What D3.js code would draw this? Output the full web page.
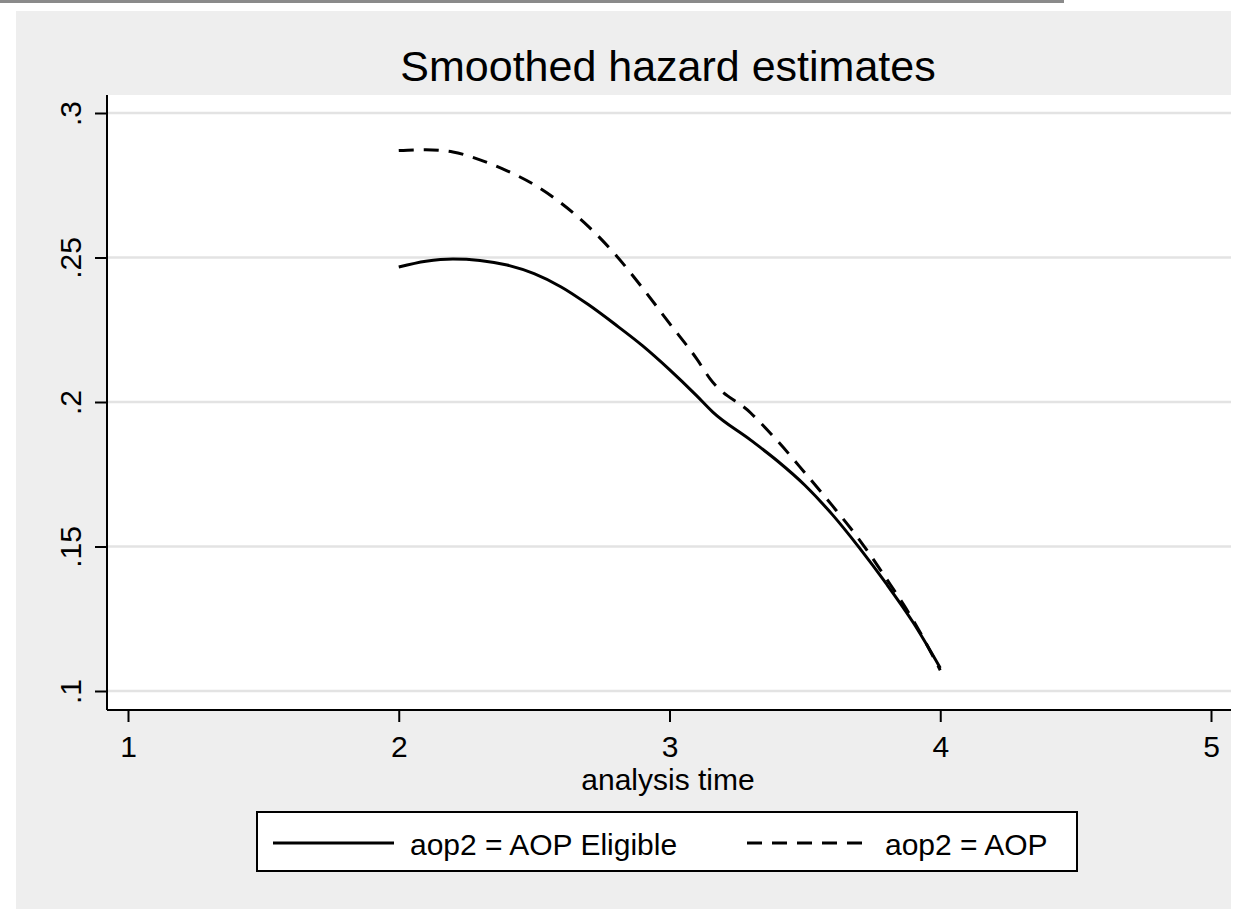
<!DOCTYPE html>
<html>
<head>
<meta charset="utf-8">
<script src="https://cdn.jsdelivr.net/npm/d3@7"></script>
<style>
  body { margin: 0; background: #fff; }
  svg { display: block; font-family: "Liberation Sans", Arial, sans-serif; }
</style>
</head>
<body>
<div id="chart"></div>
<script>
// values
const time = [2.0, 2.1, 2.2, 2.3, 2.4, 2.5, 2.6, 2.7, 2.8, 2.9, 3.0, 3.1, 3.16, 3.3, 3.4, 3.5, 3.6, 3.7, 3.8, 3.9, 4.0];
const eligible = [0.2467, 0.2487, 0.2495, 0.2490, 0.2474, 0.2444, 0.2398, 0.2337, 0.2268, 0.2195, 0.2112, 0.2022, 0.1965, 0.1868, 0.1795, 0.1712, 0.1612, 0.1497, 0.1372, 0.1237, 0.1080];
const aopTime = [2.0, 2.1, 2.2, 2.3, 2.4, 2.5, 2.6, 2.7, 2.8, 2.9, 3.0, 3.1, 3.15, 3.3, 3.4, 3.5, 3.6, 3.7, 3.8, 3.9, 4.0];
const aop = [0.2870, 0.2873, 0.2865, 0.2838, 0.2800, 0.2752, 0.2688, 0.2608, 0.2510, 0.2395, 0.2272, 0.2150, 0.2080, 0.1962, 0.1864, 0.1755, 0.1643, 0.1525, 0.1390, 0.1245, 0.1072];
const xTicks = [1, 2, 3, 4, 5];
const yTicks = [0.1, 0.15, 0.2, 0.25, 0.3];
const yTickLabels = ['.1', '.15', '.2', '.25', '.3'];
const seriesNames = ['aop2 = AOP Eligible', 'aop2 = AOP'];

const W = 1249, H = 909;
const plot = { left: 107, right: 1231, top: 95, bottom: 710 };

const svg = d3.select('#chart').append('svg')
  .attr('width', W)
  .attr('height', H);

// thin border line across the top
svg.append('rect')
  .attr('x', 0).attr('y', 0)
  .attr('width', 1064).attr('height', 3)
  .attr('fill', '#8a8a8a');

// graph region
svg.append('rect')
  .attr('x', 16).attr('y', 11)
  .attr('width', plot.right - 16).attr('height', H - 11)
  .attr('fill', '#eeeeee');

// plot region
svg.append('rect')
  .attr('x', plot.left).attr('y', plot.top)
  .attr('width', plot.right - plot.left).attr('height', plot.bottom - plot.top)
  .attr('fill', '#ffffff');

const x = d3.scaleLinear().domain([1, 5]).range([128, 1211]);
const y = d3.scaleLinear().domain([0.1, 0.3]).range([691, 113]);

// grid lines
svg.append('g')
  .selectAll('line')
  .data(yTicks)
  .enter().append('line')
  .attr('x1', plot.left).attr('x2', plot.right)
  .attr('y1', d => y(d)).attr('y2', d => y(d))
  .attr('stroke', '#e3e3e3')
  .attr('stroke-width', 2.5);

// y axis
const yAxis = svg.append('g')
  .attr('transform', `translate(${plot.left},0)`)
  .call(d3.axisLeft(y).tickValues(yTicks).tickSize(12).tickFormat((d, i) => yTickLabels[i]));
yAxis.select('.domain').attr('d', `M0,${plot.top}V${plot.bottom}`).attr('stroke', '#000').attr('stroke-width', 2);
yAxis.selectAll('.tick line').attr('stroke', '#000').attr('stroke-width', 2);
yAxis.selectAll('.tick text')
  .attr('x', null).attr('dy', null)
  .attr('transform', 'translate(-26,0) rotate(-90)')
  .attr('text-anchor', 'middle')
  .attr('font-size', 30)
  .attr('fill', '#000');

// x axis
const xAxis = svg.append('g')
  .attr('transform', `translate(0,${plot.bottom})`)
  .call(d3.axisBottom(x).tickValues(xTicks).tickSize(12).tickFormat(d3.format('d')));
xAxis.select('.domain').attr('d', `M${plot.left},0H${plot.right}`).attr('stroke', '#000').attr('stroke-width', 2);
xAxis.selectAll('.tick line').attr('stroke', '#000').attr('stroke-width', 2);
xAxis.selectAll('.tick text')
  .attr('y', 47).attr('dy', null)
  .attr('font-size', 30)
  .attr('fill', '#000');

// titles
svg.append('text')
  .attr('x', 668).attr('y', 81)
  .attr('text-anchor', 'middle')
  .attr('font-size', 43)
  .text('Smoothed hazard estimates');

svg.append('text')
  .attr('x', 668).attr('y', 790)
  .attr('text-anchor', 'middle')
  .attr('font-size', 30)
  .text('analysis time');

// lines
const line = d3.line()
  .x(d => x(d[0]))
  .y(d => y(d[1]))
  .curve(d3.curveMonotoneX);

svg.append('path')
  .datum(time.map((t, i) => [t, eligible[i]]))
  .attr('d', line)
  .attr('fill', 'none')
  .attr('stroke', '#000')
  .attr('stroke-width', 3);

svg.append('path')
  .datum(aopTime.map((t, i) => [t, aop[i]]))
  .attr('d', line)
  .attr('fill', 'none')
  .attr('stroke', '#000')
  .attr('stroke-width', 3)
  .attr('stroke-dasharray', '15,10');

// legend
const legend = svg.append('g');
legend.append('rect')
  .attr('x', 257).attr('y', 812)
  .attr('width', 820).attr('height', 59)
  .attr('fill', '#fff')
  .attr('stroke', '#000')
  .attr('stroke-width', 2);

const legendItems = [
  { name: seriesNames[0], x1: 273, x2: 394, tx: 410, dash: null },
  { name: seriesNames[1], x1: 747, x2: 868, tx: 885, dash: '15,10' }
];
legendItems.forEach(item => {
  legend.append('line')
    .attr('x1', item.x1).attr('x2', item.x2)
    .attr('y1', 843).attr('y2', 843)
    .attr('stroke', '#000')
    .attr('stroke-width', 3)
    .attr('stroke-dasharray', item.dash);
  legend.append('text')
    .attr('x', item.tx).attr('y', 855)
    .attr('font-size', 30)
    .text(item.name);
});
</script>
</body>
</html>
